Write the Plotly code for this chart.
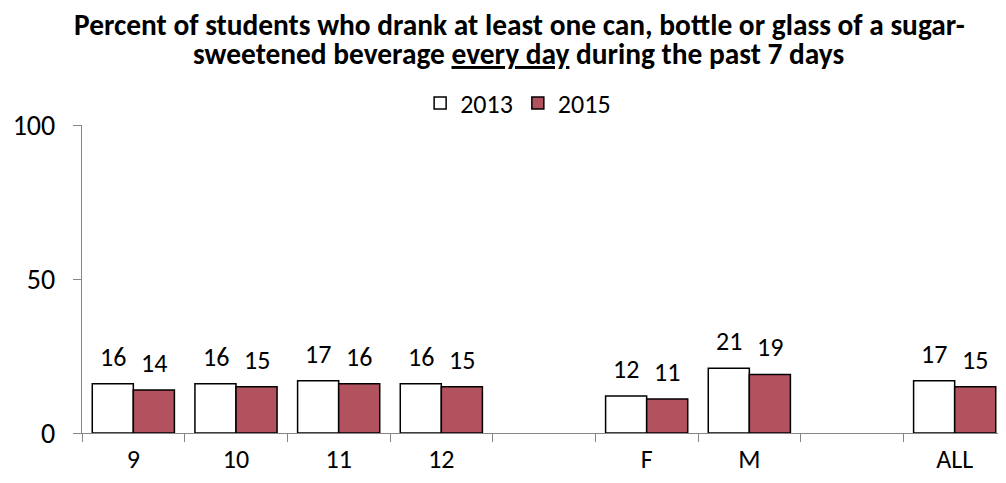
import plotly.graph_objects as go

categories = ["9", "10", "11", "12", " ", "F", "M", "  ", "ALL"]
y2013 = [16, 16, 17, 16, None, 12, 21, None, 17]
y2015 = [14, 15, 16, 15, None, 11, 19, None, 15]
yticks = [0, 50, 100]

font = "Calibri, Carlito, Lato, sans-serif"

fig = go.Figure()
fig.add_trace(go.Bar(
    x=categories, y=y2013, name="2013",
    marker=dict(color="white", line=dict(color="black", width=1.5)),
))
fig.add_trace(go.Bar(
    x=categories, y=y2015, name="2015",
    marker=dict(color="#B3525F", line=dict(color="black", width=1.5)),
))

# value labels, Excel style: well above each bar (x given as category index)
for series, dx in ((y2013, -20.5), (y2015, 20.5)):
    for i, v in enumerate(series):
        if v is None:
            continue
        fig.add_annotation(x=i, y=v, xref="x", yref="y", text=str(v),
                           showarrow=False, xshift=dx, yshift=27, yanchor="middle",
                           font=dict(size=26, family=font, color="black"))

# two-line title as annotations so the line spacing matches
fig.add_annotation(x=0.4735, y=1.326, xref="paper", yref="paper", showarrow=False,
                   text="<b>Percent of students who drank at least one can, bottle or glass of a sugar-</b>",
                   xanchor="center", yanchor="middle", font=dict(size=29.4, family=font))
fig.add_annotation(x=0.4724, y=1.229, xref="paper", yref="paper", showarrow=False,
                   text="<b>sweetened beverage <u>every day</u> during the past 7 days</b>",
                   xanchor="center", yanchor="middle", font=dict(size=29.4, family=font))

fig.update_layout(
    width=998, height=467,
    paper_bgcolor="white", plot_bgcolor="white",
    font=dict(family=font, color="black"),
    barmode="group", bargap=0.2, bargroupgap=0,
    margin=dict(l=74, r=0, t=117, b=40),
    showlegend=True,
    legend=dict(orientation="h", x=0.472, xanchor="center", y=1.071, yanchor="middle",
                font=dict(size=26, family=font), traceorder="normal",
                itemwidth=30, tracegroupgap=0),
)
fig.update_xaxes(
    type="category", range=[-0.5, 8.5],
    showline=True, linecolor="#868686", linewidth=1.3,
    ticks="outside", tickson="boundaries", ticklen=8, tickcolor="#868686",
    tickfont=dict(size=26, family=font), showgrid=False, ticklabelstandoff=3,
)
fig.update_yaxes(
    range=[0, 100], tickvals=yticks,
    showline=True, linecolor="#868686", linewidth=1.3,
    ticks="outside", ticklen=8, tickcolor="#868686",
    tickfont=dict(size=28, family=font), showgrid=False, zeroline=False,
    ticklabelstandoff=12,
)

fig.write_html("out.html")
